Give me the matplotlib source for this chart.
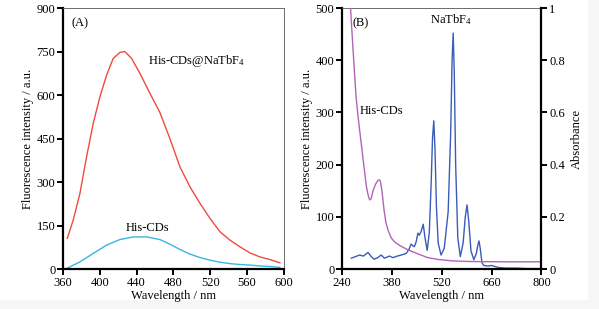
import numpy as np
import matplotlib.pyplot as plt

# Panel A: emission spectra
wl_a = [364.7, 371.2, 378.5, 385.7, 392.9, 400.2, 407.5, 414.6, 421.9, 427.3, 434.6, 443.6, 454.5, 465.3, 476.2,
        487, 497.9, 508.8, 519.7, 530.5, 541.4, 552.2, 563.1, 574, 584.8, 595.6]
hybrid_a = [106, 169, 261, 387, 502, 594, 669, 726, 747, 750, 726, 675, 606, 540, 450,
            353, 284, 227, 175, 129, 100, 77, 56, 42, 33, 22]
wl_cd = [364.7, 367.6, 378.5, 392.9, 407.5, 421.9, 436.4, 450.9, 465.3, 476.2, 487, 497.9, 508.8, 519.7, 530.5,
         541.4, 552, 563, 574, 585, 595.6]
cd_a = [3, 8, 25, 54, 83, 102, 111, 111, 102, 86, 68, 52, 40, 31, 24,
        19, 16, 14, 11, 9, 6]

# Panel B: NaTbF4 emission (left axis) and His-CDs absorbance (right axis)
wl_tb = [266, 278, 289, 300, 313, 322, 330, 340, 350, 359, 366, 373, 383, 395, 406, 420, 428, 434, 440, 443, 448, 453, 457, 462, 468, 473, 479,
         485, 490, 494, 497.6, 501, 505, 510, 518, 527, 538, 545, 549, 552, 555, 559, 565, 572, 580, 586, 591, 596, 602, 610,
         617, 621, 624.5, 628, 633, 638, 650, 660, 670, 680, 700, 730, 760, 800]
fl_tb = [21, 24, 27, 25, 32, 24, 19, 22, 27, 21, 23, 25, 22, 25, 27, 30, 38, 48, 44, 43, 52, 69, 65, 72, 86, 60, 36,
         70, 160, 250, 284, 230, 120, 50, 27, 40, 110, 260, 400, 452, 380, 200, 60, 24, 50, 100, 123, 90, 35, 18,
         30, 45, 54, 40, 12, 7, 6, 7, 5, 3, 2, 2, 1, 1]
wl_abs = [262, 266, 271, 276, 280, 287, 294, 301, 308, 313, 317.5, 322, 327, 334, 341, 345, 348, 352, 358, 363, 369, 378, 387, 400, 425, 450, 481, 510, 546, 580, 611, 700, 800]
absorb = [1.05, 0.95, 0.84, 0.73, 0.65, 0.56, 0.48, 0.40, 0.32, 0.285, 0.265, 0.27, 0.30, 0.325, 0.34, 0.342, 0.335, 0.30, 0.226, 0.18, 0.15, 0.12, 0.105, 0.092, 0.074, 0.06, 0.044, 0.037, 0.032, 0.03, 0.029, 0.028, 0.028]

plt.rcParams['font.family'] = 'Liberation Serif'
plt.rcParams['mathtext.fontset'] = 'custom'
plt.rcParams['mathtext.rm'] = 'Liberation Serif'
plt.rcParams['mathtext.it'] = 'Liberation Serif:italic'
plt.rcParams['font.size'] = 9

fig = plt.figure(figsize=(5.99, 3.09), dpi=100)
fig.patch.set_facecolor('#f6f6f6')
fig.patches.append(plt.Rectangle((0, 0.03), 0.982, 0.97, transform=fig.transFigure, facecolor='white', edgecolor='none', zorder=-10))


def style(ax):
    for s in ['left', 'bottom']:
        ax.spines[s].set_linewidth(1.6)
    for s in ['top', 'right']:
        ax.spines[s].set_linewidth(0.6)
        ax.spines[s].set_color('#555555')
    ax.tick_params(direction='out', length=4, width=1.4, pad=1.5, labelsize=9)


# (A)
ax1 = fig.add_axes([0.105, 0.129, 0.369, 0.845])
ax1.plot(wl_a, hybrid_a, color='#f04b3a', lw=1.0)
ax1.plot(wl_cd, cd_a, color='#3cb4e2', lw=1.0)
ax1.set_xlim(360, 600)
ax1.set_ylim(0, 900)
ax1.set_xticks(np.arange(360, 601, 40))
ax1.set_yticks(np.arange(0, 901, 150))
ax1.set_xlabel('Wavelength / nm', labelpad=1)
ax1.set_ylabel('Fluorescence intensity / a.u.', labelpad=2)
style(ax1)
ax1.text(0.04, 0.965, '(A)', transform=ax1.transAxes, va='top', ha='left')
ax1.text(452, 717, 'His-CDs@NaTbF$_4$', ha='left', va='center')
ax1.text(452, 141, 'His-CDs', ha='center', va='center')

# (B)
ax2 = fig.add_axes([0.571, 0.129, 0.333, 0.845])
ax2.plot(wl_tb, fl_tb, color='#3a5cb8', lw=1.0)
ax2.set_xlim(240, 800)
ax2.set_ylim(0, 500)
ax2.set_xticks(np.arange(240, 801, 140))
ax2.set_yticks(np.arange(0, 501, 100))
ax2.set_xlabel('Wavelength / nm', labelpad=1)
ax2.set_ylabel('Fluorescence intensity / a.u.', labelpad=2)
style(ax2)

ax3 = ax2.twinx()
ax3.plot(wl_abs, absorb, color='#b264b8', lw=1.0)
ax3.set_ylim(0, 1)
ax3.set_yticks([0, 0.2, 0.4, 0.6, 0.8, 1])
ax3.set_yticklabels(['0', '0.2', '0.4', '0.6', '0.8', '1'])
ax3.set_ylabel('Absorbance', labelpad=4)
for s in ['left', 'bottom', 'top']:
    ax3.spines[s].set_visible(False)
ax3.spines['right'].set_linewidth(1.6)
ax3.tick_params(direction='out', length=4, width=1.4, pad=1.5, labelsize=9)
ax2.spines['right'].set_visible(False)

ax2.text(0.055, 0.965, '(B)', transform=ax2.transAxes, va='top', ha='left')
ax2.text(545, 478, 'NaTbF$_4$', ha='center', va='center')
ax2.text(290, 303, 'His-CDs', ha='left', va='center')

fig.savefig('out.png', dpi=100, facecolor=fig.get_facecolor())
